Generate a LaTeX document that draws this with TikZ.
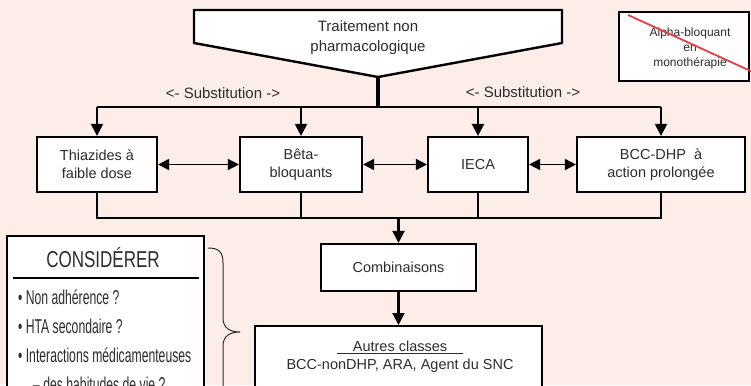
\documentclass[tikz,border=0pt]{standalone}
\usepackage{fontspec}
\setmainfont{Liberation Sans}
\newfontfamily\condfont[FakeStretch=0.61]{Liberation Sans}
\newfontfamily\condtitle[FakeStretch=0.74]{Liberation Sans}
\usetikzlibrary{arrows.meta}
\definecolor{bgPink}{RGB}{253,237,233}
\definecolor{crossRed}{RGB}{232,62,72}
\definecolor{txtGray}{RGB}{45,45,45}

\tikzset{
  box/.style={draw, line width=2.2pt, fill=white, align=center, inner sep=0pt,
    text=txtGray, font=\fontsize{14.5}{18}\selectfont},
  link/.style={line width=1.4pt},
  arr/.style={line width=2.2pt, -{Triangle[length=12pt,width=12pt]}},
  dblarr/.style={line width=1.8pt,
    {Triangle[length=11pt,width=11pt]}-{Triangle[length=11pt,width=11pt]}},
  lbl/.style={text=txtGray, font=\fontsize{15}{18}\selectfont},
  item/.style={anchor=west, inner sep=0pt, text=txtGray, font=\condfont\fontsize{20}{22}\selectfont},
}

\begin{document}
\begin{tikzpicture}[x=1pt,y=-1pt]
  \fill[bgPink] (0,0) rectangle (751,385);
  \useasboundingbox (0,0) rectangle (751,385);
  \clip (0,0) rectangle (751,385);

  % entry shape
  \draw[line width=2.4pt, fill=white, line join=miter]
    (194,10) -- (562,10) -- (562,43) -- (378,77) -- (194,43) -- cycle;
  \coordinate (tip) at (378,77);
  \node[lbl, align=center] (trait) at (368,37.5) {Traitement non\\[2pt]pharmacologique};

  % first line drugs
  \node[box, minimum width=120pt, minimum height=55pt] (thia) at (97,164.5) {Thiazides à\\faible dose};
  \node[box, minimum width=122pt, minimum height=55pt] (beta) at (301,164.5) {Bêta-\\bloquants};
  \node[box, minimum width=100pt, minimum height=55pt] (ieca) at (478,164.5) {IECA};
  \node[box, minimum width=168pt, minimum height=55pt] (bcc) at (661,164.5) {BCC-DHP\ \ à\\action prolongée};

  \coordinate (bar) at (0,107);
  \coordinate (low) at (0,218);

  \draw[line width=3.6pt] (tip) -- (tip |- bar);
  \draw[line width=2pt] (thia.north |- bar) -- (bcc.north |- bar);
  \foreach \n in {thia,beta,ieca,bcc}
    \draw[arr] (\n.north |- bar) -- (\n.north);

  \node[lbl] (sub1) at (223,93) {<- Substitution ->};
  \node[lbl] (sub2) at (523,92) {<- Substitution ->};

  \draw[dblarr] (thia.east) -- (beta.west);
  \draw[dblarr] (beta.east) -- (ieca.west);
  \draw[dblarr] (ieca.east) -- (bcc.west);

  % collecting line
  \draw[link] (thia.south) -- (thia.south |- low) -- (bcc.south |- low) -- (bcc.south);
  \draw[link] (beta.south) -- (beta.south |- low);
  \draw[link] (ieca.south) -- (ieca.south |- low);

  \node[box, minimum width=155pt, minimum height=47pt] (comb) at (398.5,267.5) {Combinaisons};
  \draw[arr] (comb.north |- low) -- (comb.north);

  \node[box, minimum width=287pt, minimum height=110pt, anchor=north] (autres) at (398.5,325) {};
  \node[lbl, font=\fontsize{14.5}{18}\selectfont] (autrestitle) at (400,347)
    {\underline{\hspace{1.1em}Autres classes\hspace{1.1em}}};
  \node[lbl, font=\fontsize{14.5}{18}\selectfont] (autresliste) at (400,366)
    {BCC-nonDHP, ARA, Agent du SNC};
  \draw[arr] (comb.south) -- (autres.north);

  % alpha-blocker, crossed out
  \node[box, minimum width=130pt, minimum height=69pt] (alpha) at (684,46.5) {};
  \node[text=txtGray, align=center, font=\fontsize{12}{15}\selectfont] (alphatxt) at (690,48)
    {Alpha-bloquant\\en\\monothérapie};
  \draw[crossRed, line width=1.8pt] (628,15) -- (755,73);

  % considerations
  \draw[line width=2.2pt, fill=white] (7,236) rectangle (204,460);
  \node[text=txtGray, font=\condtitle\fontsize{23}{26}\selectfont] (consid) at (103,258) {CONSIDÉRER};
  \draw[line width=1.6pt] (13,278) -- (199,278);
  \node[item] (nonadh) at (18,297) {• Non adhérence ?};
  \node[item] (htasec) at (18,326) {• HTA secondaire ?};
  \node[item] (interact) at (18,355) {• Interactions médicamenteuses};
  \node[item] (habit) at (33,384) {– des habitudes de vie ?};

  % brace
  \draw[line width=1pt, txtGray]
    (208,248) .. controls (219,248) and (223,252) .. (223,263) -- (223,318)
    .. controls (223,328) and (230,332) .. (240,332)
    .. controls (230,332) and (223,336) .. (223,346) -- (223,401)
    .. controls (223,412) and (219,416) .. (208,416);
\end{tikzpicture}
\end{document}
